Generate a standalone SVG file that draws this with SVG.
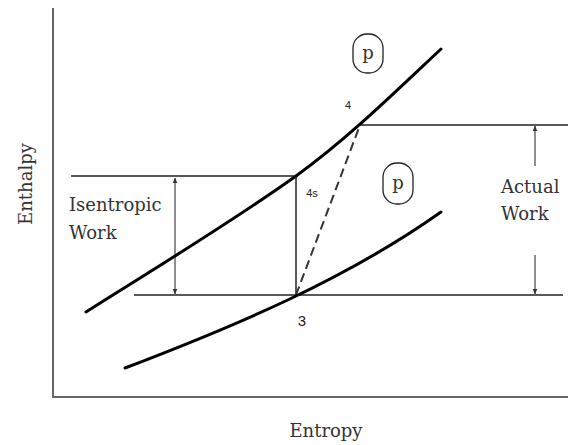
<svg xmlns="http://www.w3.org/2000/svg" width="568" height="445" viewBox="0 0 568 445">
<defs>
<marker id="ah" viewBox="0 0 10 10" refX="9" refY="5" markerWidth="6" markerHeight="6" orient="auto-start-reverse" markerUnits="userSpaceOnUse">
<path d="M0,1 L10,5 L0,9 z" fill="#333"/>
</marker>
<style>
.lbl{font-family:"DejaVu Serif","Liberation Serif",serif;font-size:18px;fill:#333}
.num{font-family:"Liberation Sans","DejaVu Sans",sans-serif;fill:#222}
.curve{fill:none;stroke:#000;stroke-width:3;stroke-linecap:round}
.hl{stroke:#222;stroke-width:1.5;fill:none}
.arr{stroke:#444;stroke-width:1.2;fill:none}
.axis{stroke:#666;stroke-width:2;fill:none}
.pbox{fill:#fff;stroke:#222;stroke-width:1.3}
</style>
</defs>
<rect width="568" height="445" fill="#fff"/>
<g id="axes">
<line class="axis" x1="53" y1="8" x2="53" y2="397"/>
<line class="axis" x1="52" y1="397" x2="568" y2="397"/>
<text class="lbl" x="326" y="437" text-anchor="middle">Entropy</text>
<text class="lbl" transform="translate(32,184) rotate(-90)" text-anchor="middle">Enthalpy</text>
</g>
<g id="connectors">
<line class="hl" x1="71" y1="176" x2="296" y2="176"/>
<line class="hl" x1="134" y1="295" x2="563" y2="295"/>
<line class="hl" x1="360" y1="125" x2="568" y2="125"/>
<line class="hl" x1="296" y1="176" x2="296" y2="295"/>
<line x1="296" y1="295" x2="360" y2="125" stroke="#333" stroke-width="2" stroke-dasharray="9 5"/>
<line class="arr" x1="175" y1="178" x2="175" y2="294" marker-start="url(#ah)" marker-end="url(#ah)"/>
<line class="arr" x1="535" y1="166" x2="535" y2="126" marker-end="url(#ah)"/>
<line class="arr" x1="535" y1="255" x2="535" y2="294" marker-end="url(#ah)"/>
</g>
<g id="upper-curve">
<path class="curve" d="M86,312 C128,285 226,226 296,176 C346,140 391,96 441,49"/>
</g>
<g id="lower-curve">
<path class="curve" d="M125,368 C235,326 345,280 441,212"/>
</g>
<g id="p-top">
<rect class="pbox" x="353" y="34" width="30" height="39" rx="14"/>
<text class="lbl" x="368" y="59" text-anchor="middle">p</text>
</g>
<g id="p-bottom">
<rect class="pbox" x="383" y="163" width="30" height="41" rx="14"/>
<text class="lbl" x="398" y="189" text-anchor="middle">p</text>
</g>
<g id="labels">
<text class="num" x="348" y="109" text-anchor="middle" font-size="11">4</text>
<text class="num" x="312" y="197" text-anchor="middle" font-size="11">4s</text>
<text class="num" x="302" y="326" text-anchor="middle" font-size="15">3</text>
<text class="lbl" x="69" y="211">Isentropic</text>
<text class="lbl" x="69" y="239">Work</text>
<text class="lbl" x="501" y="193">Actual</text>
<text class="lbl" x="501" y="220">Work</text>
</g>
</svg>
